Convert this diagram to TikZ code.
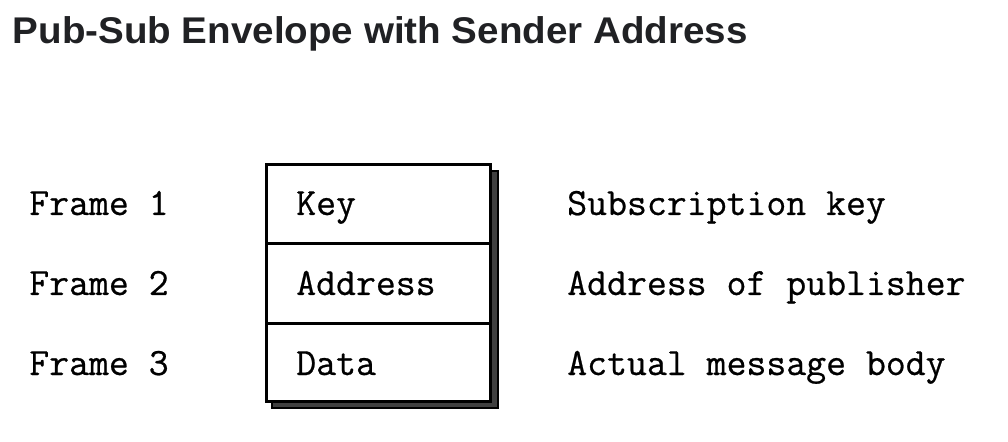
\documentclass[tikz,border=0pt]{standalone}
\usepackage{fontspec}
\setsansfont{Liberation Sans}
\newfontfamily\mymono[FakeBold=0.6]{Latin Modern Mono}
\definecolor{titlegray}{HTML}{202124}
\definecolor{shadowgray}{HTML}{404040}
\begin{document}
\begin{tikzpicture}[x=0.75pt,y=-0.75pt,
  mono/.style={font=\mymono\fontsize{29pt}{30pt}\selectfont, inner sep=0pt, anchor=base west, text=black},
  cellbox/.style={draw=black, line width=2.25pt, fill=white},
  shadowbox/.style={draw=black, line width=1.5pt, fill=shadowgray}]
\useasboundingbox[fill=white] (0,0) rectangle (1008,442);
% title
\node[anchor=base west, inner sep=0pt, text=titlegray] (title) at (12.5,44)
  {\resizebox{551pt}{20.2pt}{\sffamily\bfseries Pub-Sub Envelope with Sender Address}};
% shadow
\draw[shadowbox] (272,171) rectangle (498,408);
% cells
\draw[cellbox] (266.5,164.5) rectangle (490.5,401);
\draw[black, line width=2.25pt] (266.5,243.5) -- (490.5,243.5);
\draw[black, line width=2.25pt] (266.5,324) -- (490.5,324);
% left labels
\node[mono] (f1) at (29,215) {Frame 1};
\node[mono] (f2) at (29,295) {Frame 2};
\node[mono] (f3) at (29,375) {Frame 3};
% cell texts
\node[mono] (k) at (296,215) {Key};
\node[mono] (a) at (296,295) {Address};
\node[mono] (d) at (296,375) {Data};
% right descriptions
\node[mono] (r1) at (567,215) {Subscription key};
\node[mono] (r2) at (567,295) {Address of publisher};
\node[mono] (r3) at (567,375) {Actual message body};
\end{tikzpicture}
\end{document}
